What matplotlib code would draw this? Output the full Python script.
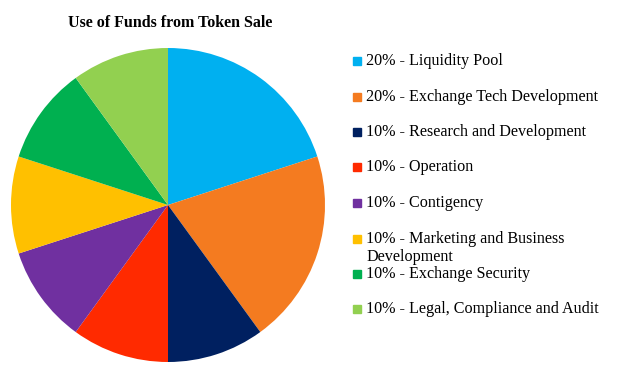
import matplotlib.pyplot as plt
from matplotlib.patches import Rectangle

plt.rcParams['font.family'] = ['Liberation Serif', 'DejaVu Serif']

# data
labels = ["20% - Liquidity Pool",
          "20% - Exchange Tech Development",
          "10% - Research and Development",
          "10% - Operation",
          "10% - Contigency",
          "10% - Marketing and Business\nDevelopment",
          "10% - Exchange Security",
          "10% - Legal, Compliance and Audit"]
shares = [20, 20, 10, 10, 10, 10, 10, 10]
colors = ["#00B0F0", "#F47B20", "#002060", "#FF2A00",
          "#7030A0", "#FFC000", "#00B050", "#92D050"]

W, H = 617, 374
fig = plt.figure(figsize=(W / 100, H / 100), dpi=100)

# pie axes: centre (168, 205) px, radius 157 px
cx, cy, r = 168, 205, 157
ax = fig.add_axes([(cx - r) / W, (H - cy - r) / H, 2 * r / W, 2 * r / H])
ax.pie(shares, colors=colors, startangle=90, counterclock=False,
       radius=1.0, wedgeprops=dict(linewidth=0))
ax.set_xlim(-1, 1)
ax.set_ylim(-1, 1)
ax.set_aspect('auto')
ax.axis('off')

fig.text(170 / W, 1 - 23 / H, "Use of Funds from Token Sale",
         ha='center', va='center', fontsize=11.5, fontweight='bold')

# legend drawn by hand
ys = [61, 97, 132, 167, 203, 239, 274, 309]
for lab, col, y in zip(labels, colors, ys):
    fig.patches.append(Rectangle((353 / W, 1 - (y + 4) / H), 8 / W, 8 / H,
                                 transform=fig.transFigure, color=col))
    for k, line in enumerate(lab.split('\n')):
        fig.text(366 / W, 1 - (y + 18 * k) / H, line, ha='left', va='center',
                 fontsize=11.6)

fig.savefig("out.png", dpi=100)
